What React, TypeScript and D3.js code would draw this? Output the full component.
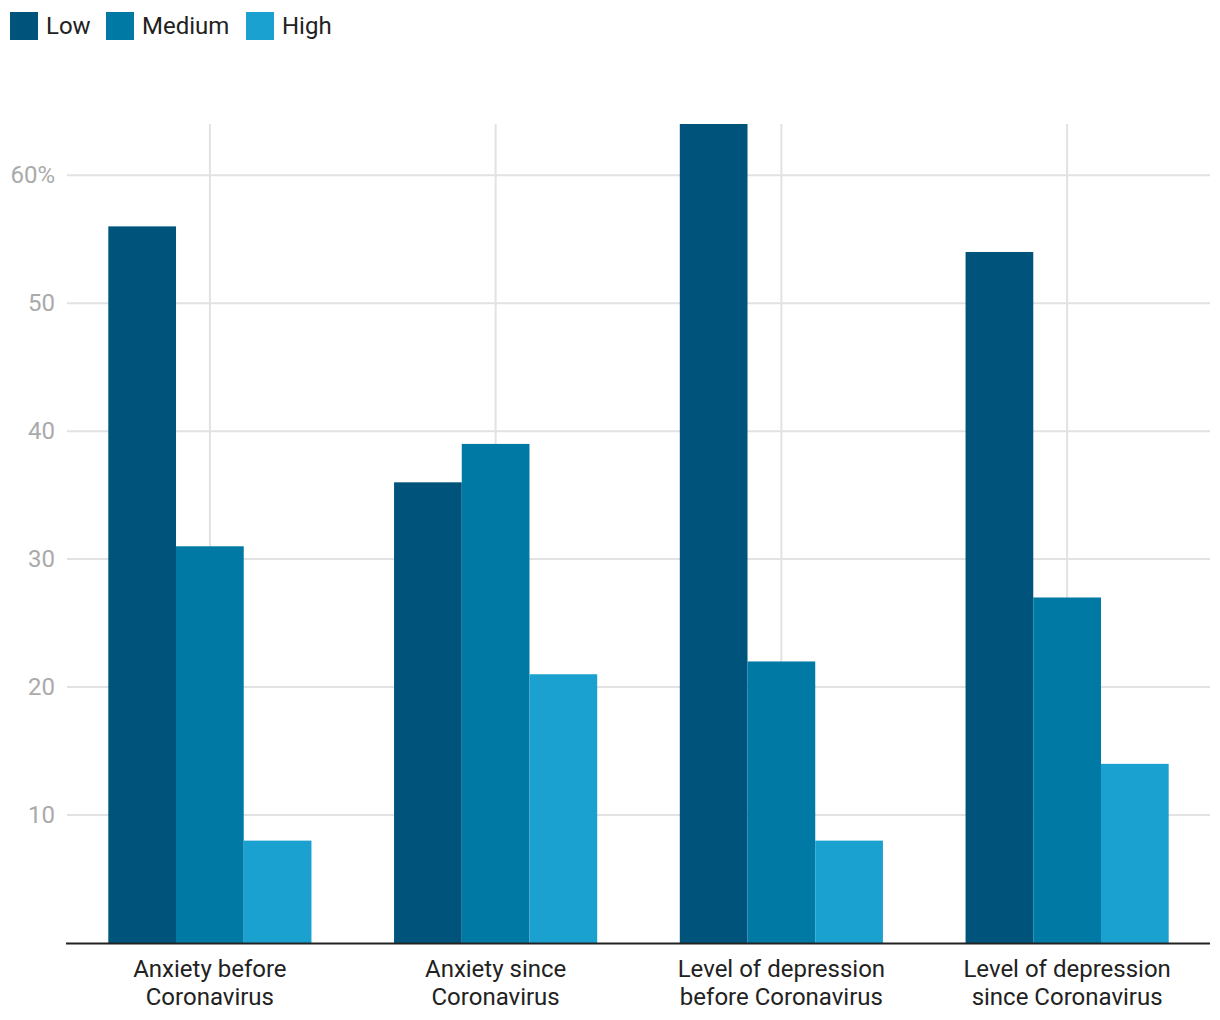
import React from "react";
import * as d3 from "d3";

const categories = [
  ["Anxiety before", "Coronavirus"],
  ["Anxiety since", "Coronavirus"],
  ["Level of depression", "before Coronavirus"],
  ["Level of depression", "since Coronavirus"],
];
const seriesNames = ["Low", "Medium", "High"];
const lowValues = [56, 36, 64, 54];
const mediumValues = [31, 39, 22, 27];
const highValues = [8, 21, 8, 14];
const yTicks = [10, 20, 30, 40, 50, 60];
const colors = ["#00547c", "#0179a5", "#1aa1d0"];

export default function App() {
  const W = 1220, H = 1020;
  const left = 67, right = 1210, top = 124, bottom = 943;
  const series = [lowValues, mediumValues, highValues];
  const x = d3.scaleBand<number>().domain(d3.range(categories.length)).range([left, right]).paddingInner(0).paddingOuter(0);
  const groupPad = 41.3;
  const inner = d3.scaleBand<number>().domain(d3.range(seriesNames.length)).range([groupPad, x.bandwidth() - groupPad]);
  const y = d3.scaleLinear().domain([0, 64]).range([bottom, top]);
  const font = "Roboto, sans-serif";

  const legendX = [10, 106, 246];
  return (
    <svg width={W} height={H} style={{ position: "absolute", left: 0, top: 0, background: "#fff" }} fontFamily={font}>
      {seriesNames.map((s, i) => (
        <g key={s}>
          <rect x={legendX[i]} y={12} width={28} height={28} fill={colors[i]} />
          <text x={legendX[i] + 36} y={34} fontSize={24} fill="#222">{s}</text>
        </g>
      ))}
      {yTicks.map((t) => (
        <g key={t}>
          <line x1={left} x2={right} y1={y(t)} y2={y(t)} stroke="#e2e2e2" strokeWidth={2} />
          <text x={55} y={y(t) + 8} textAnchor="end" fontSize={24} fill="#aaaaaa">{t === 60 ? "60%" : t}</text>
        </g>
      ))}
      {categories.map((c, i) => (
        <line key={i} x1={x(i)! + x.bandwidth() / 2} x2={x(i)! + x.bandwidth() / 2} y1={top} y2={bottom} stroke="#e2e2e2" strokeWidth={2} />
      ))}
      {categories.map((c, i) => (
        <g key={i} transform={`translate(${x(i)},0)`}>
          {series.map((vals, j) => (
            <rect key={j} x={inner(j)} width={inner.bandwidth()} y={y(vals[i])} height={bottom - y(vals[i])} fill={colors[j]} />
          ))}
        </g>
      ))}
      <line x1={left - 1} x2={right} y1={bottom + 0.5} y2={bottom + 0.5} stroke="#222" strokeWidth={2} />
      {categories.map((c, i) => (
        <text key={i} x={x(i)! + x.bandwidth() / 2} textAnchor="middle" fontSize={24} fill="#222">
          {c.map((line, k) => (
            <tspan key={k} x={x(i)! + x.bandwidth() / 2} y={977 + k * 28}>{line}</tspan>
          ))}
        </text>
      ))}
    </svg>
  );
}
